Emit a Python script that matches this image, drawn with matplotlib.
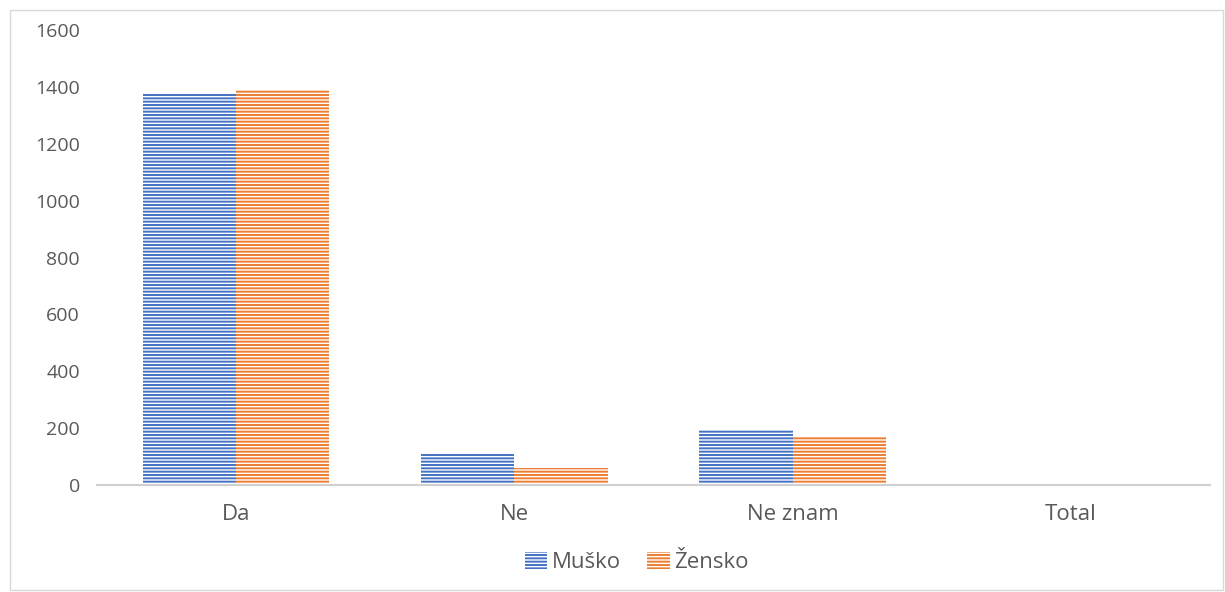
import matplotlib.pyplot as plt
import numpy as np
from matplotlib.patches import Rectangle

categories = ["Da", "Ne", "Ne znam", "Total"]
musko = [1375, 109, 193, 0]
zensko = [1389, 60, 169, 0]
series_names = ["Muško", "Žensko"]

BLUE = "#4472C4"
ORANGE = "#ED7D31"
TEXT = "#595959"

plt.rcParams["font.family"] = ["Open Sans", "DejaVu Sans"]
plt.rcParams["hatch.linewidth"] = 1.4

fig = plt.figure(figsize=(12.25, 5.92), dpi=100)
fig.patches.append(Rectangle((0.008, 0.003), 0.99, 0.98, transform=fig.transFigure,
                             fill=False, edgecolor="#D9D9D9", linewidth=1))
ax = fig.add_axes([0.079, 0.181, 0.909, 0.768])

x = np.arange(len(categories))
w = 0.335
for vals, color, name, off in [(musko, BLUE, series_names[0], -w / 2),
                               (zensko, ORANGE, series_names[1], w / 2)]:
    ax.bar(x + off, vals, width=w, facecolor="white", edgecolor=color,
           hatch="-----", linewidth=0, label=name)

ax.set_xlim(-0.5, 3.5)
ax.set_ylim(0, 1600)
ax.set_yticks(range(0, 1601, 200))
ax.set_xticks(x)
ax.set_xticklabels(categories)
ax.tick_params(axis="both", length=0, colors=TEXT)
ax.tick_params(axis="x", pad=14, labelsize=16)
ax.tick_params(axis="y", pad=12, labelsize=14)
for s in ["top", "right", "left"]:
    ax.spines[s].set_visible(False)
ax.spines["bottom"].set_color("#D0D0D0")
ax.spines["bottom"].set_linewidth(1.5)

ax.legend(loc="center", bbox_to_anchor=(0.485, -0.171), ncol=2, frameon=False,
          fontsize=16, labelcolor=TEXT, handlelength=1.0, handleheight=0.8,
          handletextpad=0.2, columnspacing=1.2)

fig.savefig("out.png", dpi=100)
